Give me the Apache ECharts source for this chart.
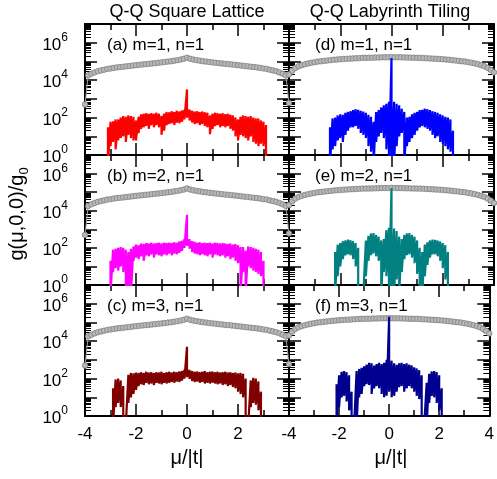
<!DOCTYPE html>
<html><head><meta charset="utf-8">
<script src="https://cdn.jsdelivr.net/npm/echarts@6/dist/echarts.min.js"></script>
<style>html,body{margin:0;padding:0;background:#fff}#c{width:497px;height:479px}</style>
</head><body><div id="c"></div>
<script>
// mu grid for spectra
const mu = [-4,-3.9,-3.8,-3.7,-3.6,-3.5,-3.4,-3.3,-3.2,-3.1,-3,-2.9,-2.8,-2.7,-2.6,-2.5,-2.4,-2.3,-2.2,-2.1,
-2,-1.9,-1.8,-1.7,-1.6,-1.5,-1.4,-1.3,-1.2,-1.1,-1,-0.9,-0.8,-0.7,-0.6,-0.5,-0.4,-0.3,-0.2,-0.1,
0,0.1,0.2,0.3,0.4,0.5,0.6,0.7,0.8,0.9,1,1.1,1.2,1.3,1.4,1.5,1.6,1.7,1.8,1.9,
2,2.1,2.2,2.3,2.4,2.5,2.6,2.7,2.8,2.9,3,3.1,3.2,3.3,3.4,3.5,3.6,3.7,3.8,3.9,4];
// mu grid for the grey reference curves
const grayMu = [-4,-3.875,-3.75,-3.625,-3.5,-3.375,-3.25,-3.125,-3,-2.875,-2.75,-2.625,-2.5,-2.375,-2.25,-2.125,
-2,-1.875,-1.75,-1.625,-1.5,-1.375,-1.25,-1.125,-1,-0.875,-0.75,-0.625,-0.5,-0.375,-0.25,-0.125,0,
0.125,0.25,0.375,0.5,0.625,0.75,0.875,1,1.125,1.25,1.375,1.5,1.625,1.75,1.875,2,
2.125,2.25,2.375,2.5,2.625,2.75,2.875,3,3.125,3.25,3.375,3.5,3.625,3.75,3.875,4];
const sqGray = [500,18000,22000,26000,30000,33000,36000,40000,42000,45000,48000,50000,52000,55000,57000,60000,63000,66000,69000,72000,74000,78000,81000,85000,89000,93000,98000,102000,110000,117000,126000,138000,158000,
138000,126000,117000,110000,102000,98000,93000,89000,85000,81000,78000,74000,72000,69000,66000,63000,60000,57000,55000,52000,50000,48000,45000,42000,40000,36000,33000,30000,26000,22000,18000,600];
const lbGray = [20000,32000,45000,55000,63000,71000,78000,85000,91000,98000,102000,107000,112000,117000,123000,126000,132000,135000,138000,141000,145000,148000,151000,155000,155000,158000,158000,162000,162000,166000,166000,166000,170000,
166000,166000,166000,162000,162000,158000,158000,155000,155000,151000,148000,145000,141000,138000,135000,132000,126000,123000,117000,112000,107000,102000,98000,91000,85000,78000,71000,63000,55000,45000,35000,26000];
const N = null;
// (a) square m=1
const aHi = [N,N,N,N,N,N,N,N,N,30, 60,63,80,80,100,120,110,130,120,110, 70,110,150,160,170,160,170,160,180,160,
120,160,200,190,220,200,230,210,240,260, 3200,270,230,210,220,200,210,190,180,130, 160,180,170,160,170,150,160,140,130,100,
80,110,130,120,110,120,100,90,90,70, 60,40,N,N,N,N,N,N,N,N, N];
const aLo = [N,N,N,N,N,N,N,N,N,0.3, 3,5,2,6,8,10,5,12,8,6, 6,15,25,30,35,25,40,30,40,30,
12,20,40,45,50,40,55,50,60,80, 100,70,55,45,50,40,45,35,30,13, 25,35,40,30,35,30,35,25,20,10,
6,12,10,8,6,10,5,4,3,4, 3,0.3,N,N,N,N,N,N,N,N, N];
// (b) square m=2
const bHi = [N,N,N,N,N,N,N,N,N,N, 20,80,90,100,110,100,80,60,90,120, 150,140,170,160,180,170,190,170,180,190,
170,190,180,190,180,200,190,220,240,300, 6000,290,230,210,190,200,180,190,180,190, 170,190,180,170,180,170,160,170,150,160,
140,110,110,70,120,110,100,90,80,60, 20,N,N,N,N,N,N,N,N,N, N];
const bLo = [N,N,N,N,N,N,N,N,N,N, 0.3,5,8,6,10,5,0.3,0.3,0.3,20, 30,25,35,20,40,35,45,30,45,40,
35,45,40,50,40,50,45,55,70,100, 130,90,60,50,45,40,45,40,35,45, 30,45,40,35,40,30,35,25,30,20,
15,0.3,5,0.3,10,8,6,5,4,3, 0.3,N,N,N,N,N,N,N,N,N, N];
// (c) square m=3
const cHi = [N,N,N,N,N,N,N,N,N,N, N,30,90,100,80,40,0.5,160,200,190, 210,200,220,200,230,210,220,200,220,210,
230,200,220,230,210,230,220,240,250,300, 5000,290,250,230,240,220,230,250,220,230, 240,220,230,210,220,230,210,220,200,210,
190,200,180,100,0.5,80,110,100,70,20, N,N,N,N,N,N,N,N,N,N, N];
const cLo = [N,N,N,N,N,N,N,N,N,N, N,0.3,3,5,3,0.3,0.3,5,10,15, 25,40,50,45,60,50,55,45,60,55,
50,60,55,60,65,60,70,65,80,100, 120,95,75,65,70,60,65,55,60,55, 60,55,50,55,45,50,40,45,35,30,
20,15,10,0.3,0.3,3,5,4,2,0.3, N,N,N,N,N,N,N,N,N,N, N];
// (d) labyrinth m=1
const dHi = [N,N,N,N,N,N,N,N,N,N, N,N,N,N,N,N,30,90,100,130, 150,140,180,200,220,250,280,260,230,210,
180,140,110,60,200,250,350,450,550,700, 150000,700,550,450,300,200,100,110,150,180, 200,250,260,300,280,250,220,200,180,150,
130,110,100,80,20,N,N,N,N,N, N,N,N,N,N,N,N,N,N,N, N];
const dLo = [N,N,N,N,N,N,N,N,N,N, N,N,N,N,N,N,0.3,2,3,6, 8,5,12,20,30,30,35,25,15,12,
8,3,1.5,0.3,5,10,15,8,2,0.3, 0.3,0.3,3,10,15,0.3,3,5,8,12, 20,30,35,30,25,20,12,8,10,5,
4,3,2,1.5,0.3,N,N,N,N,N, N,N,N,N,N,N,N,N,N,N, N];
// (e) labyrinth m=2
const eHi = [N,N,N,N,N,N,N,N,N,N, N,N,N,N,N,N,N,N,60,150, 180,230,250,280,260,230,180,100,0.5,0.5,
250,450,600,630,500,400,250,300,900,1200, 160000,1100,800,400,300,500,600,630,500,400, 250,100,60,150,200,250,280,270,250,220,
180,140,60,N,N,N,N,N,N,N, N,N,N,N,N,N,N,N,N,N, N];
const eLo = [N,N,N,N,N,N,N,N,N,N, N,N,N,N,N,N,N,N,0.3,3, 10,25,40,45,40,25,10,0.3,0.3,0.3,
3,20,40,50,35,20,0.3,5,3,0.3, 0.3,0.3,2,0.3,5,25,40,45,30,15, 4,0.3,0.3,3,12,30,45,45,35,20,
8,2,0.3,N,N,N,N,N,N,N, N,N,N,N,N,N,N,N,N,N, N];
// (f) labyrinth m=3
const fHi = [N,N,N,N,N,N,N,N,N,N, N,N,N,N,N,N,N,N,N,50, 150,230,250,220,150,20,0.5,250,320,380,
450,550,700,650,500,600,700,600,700,1000, 200000,900,650,550,650,700,600,650,550,500, 400,350,280,150,0.5,60,180,240,250,220,
150,30,N,N,N,N,N,N,N,N, N,N,N,N,N,N,N,N,N,N, N];
const fLo = [N,N,N,N,N,N,N,N,N,N, N,N,N,N,N,N,N,N,N,0.3, 3,10,12,6,2,0.3,0.3,0.3,10,15,
40,50,45,15,30,40,30,15,10,12, 20,10,12,20,35,40,20,30,40,30, 20,12,8,0.3,0.3,0.3,5,12,10,5,
2,0.3,N,N,N,N,N,N,N,N, N,N,N,N,N,N,N,N,N,N, N];

const colTitles = ['Q-Q Square Lattice', 'Q-Q Labyrinth Tiling'];
const panelLabels = ['(a) m=1, n=1','(b) m=2, n=1','(c) m=3, n=1','(d) m=1, n=1','(e) m=2, n=1','(f) m=3, n=1'];
const yName = 'g(μ,0,0)/g';
const xName = 'μ/|t|';

const FONT = '"Liberation Sans", Arial, Helvetica, sans-serif';
const panels = [
  {r:0,c:0,hi:aHi,lo:aLo,color:'#ff0000',gray:sqGray,label:panelLabels[0]},
  {r:1,c:0,hi:bHi,lo:bLo,color:'#ff00ff',gray:sqGray,label:panelLabels[1]},
  {r:2,c:0,hi:cHi,lo:cLo,color:'#800000',gray:sqGray,label:panelLabels[2]},
  {r:0,c:1,hi:dHi,lo:dLo,color:'#0000ff',gray:lbGray,label:panelLabels[3]},
  {r:1,c:1,hi:eHi,lo:eLo,color:'#008080',gray:lbGray,label:panelLabels[4]},
  {r:2,c:1,hi:fHi,lo:fLo,color:'#00008f',gray:lbGray,label:panelLabels[5]}
];
const tops = [24,155,285], heights = [131,130,131];
const lefts = [85,289], widths = [204,205];

function spectrum(hi, lo){
  const out = [];
  for (let i = 0; i < mu.length; i++) {
    if (hi[i] == null) { out.push([mu[i], null]); continue; }
    out.push([mu[i], hi[i]]);
    out.push([mu[i], lo[i]]);
  }
  return out;
}
function pairs(xs, ys){ return xs.map((x,i)=>[x, ys[i]]); }

const grids=[], xAxes=[], yAxes=[], series=[], graphics=[];
const axLine = {show:true, onZero:false, lineStyle:{color:'#000', width:2}};
panels.forEach((p,g)=>{
  grids.push({left:lefts[p.c], top:tops[p.r], width:widths[p.c], height:heights[p.r]});
  const xBase = {gridIndex:g, type:'value', min:-4, max:4, interval:2,
    axisLine:axLine, splitLine:{show:false},
    axisTick:{show:true, inside:true, length:12, lineStyle:{color:'#000', width:1.5}},
    minorTick:{show:true, splitNumber:2, length:6, lineStyle:{color:'#000', width:1.5}}};
  xAxes.push(Object.assign({}, xBase, {position:'bottom',
    axisLabel:{show:p.r===2, margin:10, fontSize:17, color:'#000', fontFamily:FONT,
      formatter:(v)=> (p.c===0 && v===4) ? '' : String(v)}}));
  xAxes.push(Object.assign({}, xBase, {position:'top', axisLabel:{show:false}}));
  const yBase = {gridIndex:g, type:'log', logBase:10, min:1, max:1e7,
    axisLine:axLine, splitLine:{show:false},
    axisTick:{show:true, inside:true, length:12, lineStyle:{color:'#000', width:1.5}},
    minorTick:{show:true, splitNumber:9, length:6, lineStyle:{color:'#000', width:1}}};
  yAxes.push(Object.assign({}, yBase, {position:'left',
    axisLabel:{show:p.c===0, margin:17, color:'#000',
      formatter:(v)=>{ const e = Math.round(Math.log(v)/Math.LN10); return e%2===0 ? '{b|10}{s|'+e+'}' : ''; },
      rich:{b:{fontSize:17, fontFamily:FONT, color:'#000', verticalAlign:'bottom', lineHeight:22},
            s:{fontSize:12, fontFamily:FONT, color:'#000', verticalAlign:'top'}}}}));
  yAxes.push(Object.assign({}, yBase, {position:'right', axisLabel:{show:false}}));
  series.push({type:'line', xAxisIndex:2*g, yAxisIndex:2*g, data:pairs(grayMu, p.gray),
    symbol:'circle', symbolSize:5.5, showSymbol:true, z:2,
    itemStyle:{color:'#b8b8b8', borderColor:'#808080', borderWidth:0.8},
    lineStyle:{color:'#9a9a9a', width:1}, animation:false});
  series.push({type:'line', xAxisIndex:2*g, yAxisIndex:2*g, data:spectrum(p.hi, p.lo),
    showSymbol:false, symbol:'none', connectNulls:false, z:3,
    lineStyle:{color:p.color, width:2.2, join:'miter', miterLimit:2}, animation:false});
  graphics.push({type:'text', x:lefts[p.c] + (p.c===0 ? 22 : 26), y:tops[p.r] + 13,
    style:{text:p.label, fill:'#000', font:'17px '+FONT, align:'left', verticalAlign:'top'}});
});
graphics.push({type:'text', x:187, y:12, style:{text:colTitles[0], fill:'#000', font:'18px '+FONT, align:'center', verticalAlign:'middle'}});
graphics.push({type:'text', x:390, y:12, style:{text:colTitles[1], fill:'#000', font:'18px '+FONT, align:'center', verticalAlign:'middle'}});
graphics.push({type:'text', x:187, y:458, style:{text:xName, fill:'#000', font:'20px '+FONT, align:'center', verticalAlign:'middle'}});
graphics.push({type:'text', x:391, y:458, style:{text:xName, fill:'#000', font:'20px '+FONT, align:'center', verticalAlign:'middle'}});
graphics.push({type:'text', x:19, y:214, rotation:Math.PI/2,
  style:{text:'{m|'+yName+'}{u|0}', align:'center', verticalAlign:'middle',
    rich:{m:{fontSize:20, fontFamily:FONT, fill:'#000', verticalAlign:'top', lineHeight:24},
          u:{fontSize:13, fontFamily:FONT, fill:'#000', verticalAlign:'bottom', lineHeight:24, padding:[8,0,0,0]}}}});

const chart = echarts.init(document.getElementById('c'), null, {renderer:'canvas'});
chart.setOption({animation:false, backgroundColor:'#fff', grid:grids, xAxis:xAxes, yAxis:yAxes, series:series, graphic:graphics});
</script></body></html>
